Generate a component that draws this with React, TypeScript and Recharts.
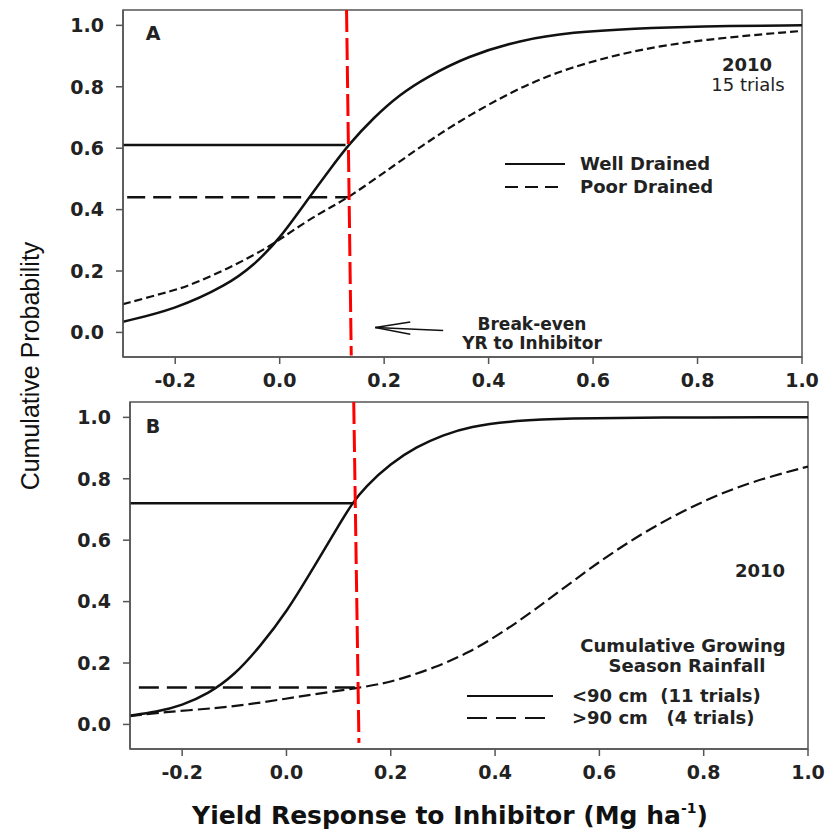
import React from "react";
import { LineChart, Line, XAxis, YAxis, ReferenceLine, ReferenceArea } from "recharts";

const xTicks = [-0.2, 0, 0.2, 0.4, 0.6, 0.8, 1.0];
const yTicks = [0, 0.2, 0.4, 0.6, 0.8, 1.0];
const xDomain = [-0.3, 1.0];
const yDomain = [-0.08, 1.05];

// panel A, 2010, 15 trials
const wellDrained = [
  { x: -0.3, y: 0.035 }, { x: -0.2, y: 0.075 }, { x: -0.1, y: 0.155 }, { x: -0.05, y: 0.218 },
  { x: 0, y: 0.305 }, { x: 0.05, y: 0.425 }, { x: 0.1, y: 0.54 }, { x: 0.131, y: 0.61 },
  { x: 0.18, y: 0.7 }, { x: 0.23, y: 0.775 }, { x: 0.28, y: 0.83 }, { x: 0.36, y: 0.9 },
  { x: 0.46, y: 0.952 }, { x: 0.56, y: 0.978 }, { x: 0.68, y: 0.99 }, { x: 0.8, y: 0.997 },
  { x: 1.0, y: 1.0 },
];
const poorDrained = [
  { x: -0.3, y: 0.092 }, { x: -0.218, y: 0.13 }, { x: -0.179, y: 0.148 }, { x: -0.096, y: 0.21 },
  { x: -0.032, y: 0.268 }, { x: 0, y: 0.302 }, { x: 0.051, y: 0.362 }, { x: 0.1, y: 0.41 },
  { x: 0.135, y: 0.443 }, { x: 0.212, y: 0.535 }, { x: 0.26, y: 0.593 }, { x: 0.308, y: 0.648 },
  { x: 0.359, y: 0.703 }, { x: 0.456, y: 0.795 }, { x: 0.552, y: 0.862 }, { x: 0.679, y: 0.919 },
  { x: 0.808, y: 0.954 }, { x: 1.0, y: 0.982 },
];
const wellAtBreakEven = [{ x: -0.3, y: 0.61 }, { x: 0.126, y: 0.61 }];
const poorAtBreakEven = [{ x: -0.292, y: 0.44 }, { x: 0.131, y: 0.44 }];
const breakEvenA = [{ x: 0.128, y: 1.05 }, { x: 0.137, y: -0.075 }];

// panel B, by growing season rainfall
const under90 = [
  { x: -0.3, y: 0.029 }, { x: -0.25, y: 0.04 }, { x: -0.2, y: 0.062 }, { x: -0.15, y: 0.1 },
  { x: -0.1, y: 0.16 }, { x: -0.05, y: 0.255 }, { x: 0, y: 0.365 }, { x: 0.05, y: 0.505 },
  { x: 0.1, y: 0.648 }, { x: 0.126, y: 0.72 }, { x: 0.15, y: 0.772 }, { x: 0.2, y: 0.85 },
  { x: 0.25, y: 0.905 }, { x: 0.3, y: 0.942 }, { x: 0.35, y: 0.97 }, { x: 0.44, y: 0.99 },
  { x: 0.54, y: 0.997 }, { x: 0.7, y: 1.0 }, { x: 1.0, y: 1.0 },
];
const over90 = [
  { x: -0.3, y: 0.027 }, { x: -0.229, y: 0.041 }, { x: -0.133, y: 0.053 }, { x: -0.069, y: 0.066 },
  { x: 0, y: 0.084 }, { x: 0.059, y: 0.1 }, { x: 0.139, y: 0.119 }, { x: 0.187, y: 0.134 },
  { x: 0.219, y: 0.148 }, { x: 0.283, y: 0.184 }, { x: 0.348, y: 0.232 }, { x: 0.412, y: 0.297 },
  { x: 0.476, y: 0.373 }, { x: 0.54, y: 0.455 }, { x: 0.604, y: 0.535 }, { x: 0.668, y: 0.607 },
  { x: 0.732, y: 0.67 }, { x: 0.797, y: 0.725 }, { x: 0.861, y: 0.771 }, { x: 0.925, y: 0.806 },
  { x: 1.0, y: 0.84 },
];
const under90AtBreakEven = [{ x: -0.3, y: 0.72 }, { x: 0.129, y: 0.72 }];
const over90AtBreakEven = [{ x: -0.283, y: 0.12 }, { x: 0.139, y: 0.12 }];
const breakEvenB = [{ x: 0.129, y: 1.05 }, { x: 0.139, y: -0.06 }];

const AXIS = "#555";
const FONT = "DejaVu Sans, Verdana, sans-serif";
const tickStyle = { fontSize: 19, fontWeight: "bold", fill: "#222", fontFamily: FONT };
const fmt = (v: number) => v.toFixed(1);

function axes(yWidth: number, xHeight: number) {
  return [
    <XAxis key="x" type="number" dataKey="x" domain={xDomain} ticks={xTicks} allowDataOverflow
      tickFormatter={fmt} tick={tickStyle} height={xHeight} tickSize={7} tickMargin={10}
      axisLine={{ stroke: AXIS, strokeWidth: 1.5 }} tickLine={{ stroke: AXIS, strokeWidth: 1.5 }} />,
    <YAxis key="y" type="number" dataKey="y" domain={yDomain} ticks={yTicks} allowDataOverflow
      tickFormatter={fmt} tick={tickStyle} width={yWidth} tickSize={7} tickMargin={12}
      axisLine={{ stroke: AXIS, strokeWidth: 1.5 }} tickLine={{ stroke: AXIS, strokeWidth: 1.5 }} />,
    <ReferenceArea key="frame" x1={xDomain[0]} x2={xDomain[1]} y1={yDomain[0]} y2={yDomain[1]}
      fill="none" fillOpacity={0} stroke={AXIS} strokeWidth={1.5} />,
  ];
}

function curve(data: { x: number; y: number }[], dash?: string, w = 2.5, color = "#111", type: "basis" | "linear" = "basis") {
  return (
    <Line data={data} dataKey="y" type={type} stroke={color} strokeWidth={w} strokeDasharray={dash}
      dot={false} activeDot={false} isAnimationActive={false} />
  );
}

export default function App() {
  return (
    <div style={{ position: "absolute", left: 0, top: 0, width: 827, height: 833, background: "#fff" }}>
      <div style={{ position: "absolute", left: 0, top: 0 }}>
        <LineChart width={827} height={400} margin={{ top: 10, right: 25, bottom: 0, left: 0 }}>
          {axes(123, 43)}
          {curve(wellAtBreakEven, undefined, 2.5, "#111", "linear")}
          {curve(poorAtBreakEven, "18 8", 2.5, "#111", "linear")}
          {curve(wellDrained)}
          {curve(poorDrained, "8 4", 2.2)}
          {curve(breakEvenA, "22 6", 3, "#f00", "linear")}
          <ReferenceLine segment={[{ x: 0.313, y: 0.006 }, { x: 0.183, y: 0.016 }]} stroke="#111" strokeWidth={1.5} />
          <ReferenceLine segment={[{ x: 0.183, y: 0.016 }, { x: 0.25, y: 0.034 }]} stroke="#111" strokeWidth={1.5} />
          <ReferenceLine segment={[{ x: 0.183, y: 0.016 }, { x: 0.25, y: -0.006 }]} stroke="#111" strokeWidth={1.5} />
        </LineChart>
      </div>
      <div style={{ position: "absolute", left: 0, top: 380 }}>
        <LineChart width={827} height={453} margin={{ top: 22, right: 19, bottom: 0, left: 0 }}>
          {axes(130, 84)}
          {curve(under90AtBreakEven, undefined, 2.5, "#111", "linear")}
          {curve(over90AtBreakEven, "20 8", 2.5, "#111", "linear")}
          {curve(under90)}
          {curve(over90, "12 5", 2.2)}
          {curve(breakEvenB, "22 6", 3, "#f00", "linear")}
        </LineChart>
      </div>
      <svg width={827} height={833} style={{ position: "absolute", left: 0, top: 0, pointerEvents: "none" }}
        fontFamily={FONT} fill="#222">
        <text x={30} y={366} transform="rotate(-90 30 366)" textAnchor="middle" dominantBaseline="central"
          fontFamily="Liberation Sans, Arial, sans-serif" fontSize={25} fill="#111">Cumulative Probability</text>

        <text x={153} y={40} textAnchor="middle" fontSize={19} fontWeight="bold">A</text>
        <text x={747} y={71} textAnchor="middle" fontSize={18} fontWeight="bold">2010</text>
        <text x={748} y={91} textAnchor="middle" fontSize={18}>15 trials</text>
        <line x1={505} y1={164} x2={565} y2={164} stroke="#111" strokeWidth={2} />
        <text x={580} y={170} fontSize={18} fontWeight="bold">Well Drained</text>
        <line x1={505} y1={187} x2={560} y2={187} stroke="#111" strokeWidth={2} strokeDasharray="13 7" />
        <text x={580} y={193} fontSize={18} fontWeight="bold">Poor Drained</text>
        <text x={532} y={330} textAnchor="middle" fontSize={17} fontWeight="bold">Break-even</text>
        <text x={532} y={349} textAnchor="middle" fontSize={17} fontWeight="bold">YR to Inhibitor</text>

        <text x={153} y={433} textAnchor="middle" fontSize={19} fontWeight="bold">B</text>
        <text x={760} y={577} textAnchor="middle" fontSize={18} fontWeight="bold">2010</text>
        <text x={683} y={652} textAnchor="middle" fontSize={18} fontWeight="bold">Cumulative Growing</text>
        <text x={687} y={672} textAnchor="middle" fontSize={18} fontWeight="bold">Season Rainfall</text>
        <line x1={467} y1={696} x2={553} y2={696} stroke="#111" strokeWidth={2} />
        <text x={572} y={702} fontSize={18} fontWeight="bold" style={{ whiteSpace: "pre" }}>{"<90 cm  (11 trials)"}</text>
        <line x1={467} y1={718} x2={545} y2={718} stroke="#111" strokeWidth={2} strokeDasharray="20 9" />
        <text x={572} y={724} fontSize={18} fontWeight="bold" style={{ whiteSpace: "pre" }}>{">90 cm   (4 trials)"}</text>

        <text x={450} y={824} textAnchor="middle" fontSize={25} fontWeight="bold" fill="#111">
          Yield Response to Inhibitor (Mg ha<tspan dy={-11} fontSize={14}>-1</tspan><tspan dy={11}>)</tspan>
        </text>
      </svg>
    </div>
  );
}
